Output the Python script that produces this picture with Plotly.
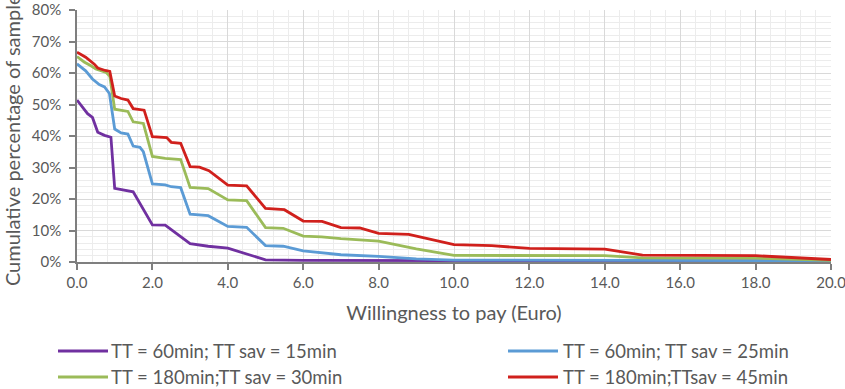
import plotly.graph_objects as go

# ---- data ----
series_names = [
    "TT = 60min; TT sav = 15min",
    "TT = 60min; TT sav = 25min",
    "TT = 180min;TT sav = 30min",
    "TT = 180min;TTsav = 45min",
]
series_colors = ["#7030A0", "#5B9BD5", "#9BBB59", "#D0201C"]

purple_x = [0, 0.14, 0.28, 0.41, 0.55, 0.73, 0.9, 1.0, 1.17, 1.49, 2.0, 2.34, 3.0, 3.48, 4.0, 5.0, 6.0, 20.0]
purple_y = [51.4, 49.2, 47.1, 45.9, 41.2, 40.2, 39.6, 23.4, 23.0, 22.3, 11.8, 11.7, 5.8, 5.0, 4.4, 0.7, 0.5, 0.3]

blue_x = [0, 0.23, 0.41, 0.59, 0.73, 0.86, 1.0, 1.17, 1.35, 1.49, 1.67, 1.76, 2.0, 2.34, 2.5, 2.75,
          3.0, 3.48, 4.0, 4.5, 5.0, 5.47, 6.0, 7.0, 8.0, 9.0, 10.0, 20.0]
blue_y = [62.9, 60.7, 58.1, 56.3, 55.6, 53.5, 42.2, 41.0, 40.6, 36.8, 36.4, 35.0, 24.8, 24.5, 23.9, 23.6,
          15.2, 14.7, 11.3, 11.0, 5.2, 5.0, 3.5, 2.3, 1.8, 1.0, 0.6, 0.4]

green_x = [0, 0.19, 0.37, 0.5, 0.77, 0.87, 1.0, 1.35, 1.49, 1.76, 2.0, 2.34, 2.75, 3.0, 3.48, 4.0, 4.5,
           5.0, 5.47, 6.0, 6.49, 7.0, 8.0, 9.0, 10.0, 14.0, 15.0, 18.0, 20.0]
green_y = [65.2, 63.5, 62.3, 61.3, 60.2, 59.0, 48.5, 47.8, 44.5, 44.0, 33.5, 32.9, 32.5, 23.7, 23.3, 19.7, 19.5,
           10.9, 10.7, 8.2, 8.0, 7.4, 6.6, 4.2, 2.1, 2.0, 1.3, 1.2, 0.5]

red_x = [0, 0.23, 0.46, 0.55, 0.75, 0.87, 1.0, 1.17, 1.35, 1.49, 1.78, 2.0, 2.38, 2.5, 2.75, 3.0, 3.25, 3.5,
         4.0, 4.5, 5.0, 5.5, 6.0, 6.5, 7.0, 7.5, 8.0, 8.8, 10.0, 11.0, 12.0, 14.0, 15.0, 18.0, 20.0]
red_y = [66.6, 65.0, 62.8, 61.6, 60.8, 60.5, 52.7, 51.9, 51.4, 48.7, 48.2, 39.8, 39.5, 38.0, 37.7, 30.3, 30.1, 29.0,
         24.4, 24.2, 17.0, 16.6, 13.0, 12.9, 10.9, 10.8, 9.1, 8.8, 5.5, 5.2, 4.3, 4.1, 2.2, 2.0, 0.8]

x_title = "Willingness to pay (Euro)"
y_title = "Cumulative percentage of samples"

# ---- figure ----
FONT = "Lato"
TXT = "#595959"

fig = go.Figure()
all_x = [purple_x, blue_x, green_x, red_x]
all_y = [purple_y, blue_y, green_y, red_y]
for name, col, xs, ys in zip(series_names, series_colors, all_x, all_y):
    fig.add_trace(go.Scatter(
        x=xs, y=[v / 100 for v in ys], mode="lines", name=name,
        line=dict(color=col, width=2.8), showlegend=False,
    ))

# manual legend (two columns, two rows)
L = 77
W = 754
T = 10
H = 252
def px(p):
    return (p - L) / W
def py(q):
    return (T + H - q) / H

legend_pos = [(58, 109, 351), (508, 561, 351), (58, 109, 377), (508, 561, 377)]
for (x0, xt, yy), name, col in zip(legend_pos, series_names, series_colors):
    fig.add_shape(type="line", xref="paper", yref="paper",
                  x0=px(x0), x1=px(x0 + 50), y0=py(yy), y1=py(yy),
                  line=dict(color=col, width=2.8))
    fig.add_annotation(xref="paper", yref="paper", x=px(xt), y=py(yy),
                       text=name, showarrow=False, xanchor="left", yanchor="middle",
                       font=dict(family=FONT, size=18.5, color=TXT))

fig.update_layout(
    width=845, height=389,
    margin=dict(l=77, r=14, t=10, b=127, autoexpand=False),
    paper_bgcolor="white", plot_bgcolor="white",
    font=dict(family=FONT, size=15, color=TXT),
)
fig.update_xaxes(
    range=[0, 20], dtick=2, tick0=0, tickformat=".1f", automargin=False,
    showline=True, linecolor="#7f7f7f", linewidth=1.5,
    ticks="outside", ticklen=6, tickcolor="#7f7f7f", tickwidth=1.5,
    showgrid=True, gridcolor="#d9d9d9", gridwidth=1,
    minor=dict(dtick=0.4, showgrid=True, gridcolor="#ececec", gridwidth=1),
    zeroline=False, ticklabeloverflow="allow",
    tickfont=dict(family=FONT, size=15, color=TXT),
    title=dict(text=x_title, font=dict(family=FONT, size=20, color=TXT), standoff=16),
)
fig.update_yaxes(
    range=[0, 0.8], dtick=0.1, tick0=0, tickformat=".0%", automargin=False,
    showline=True, linecolor="#7f7f7f", linewidth=1.5,
    ticks="outside", ticklen=6, tickcolor="#7f7f7f", tickwidth=1.5,
    showgrid=True, gridcolor="#d9d9d9", gridwidth=1,
    minor=dict(dtick=0.02, showgrid=True, gridcolor="#ececec", gridwidth=1),
    zeroline=False, ticklabelstandoff=5, ticklabeloverflow="allow",
    tickfont=dict(family=FONT, size=15, color=TXT),
    title=dict(text=y_title, font=dict(family=FONT, size=20, color=TXT), standoff=10),
)

fig.write_html("out.html")
